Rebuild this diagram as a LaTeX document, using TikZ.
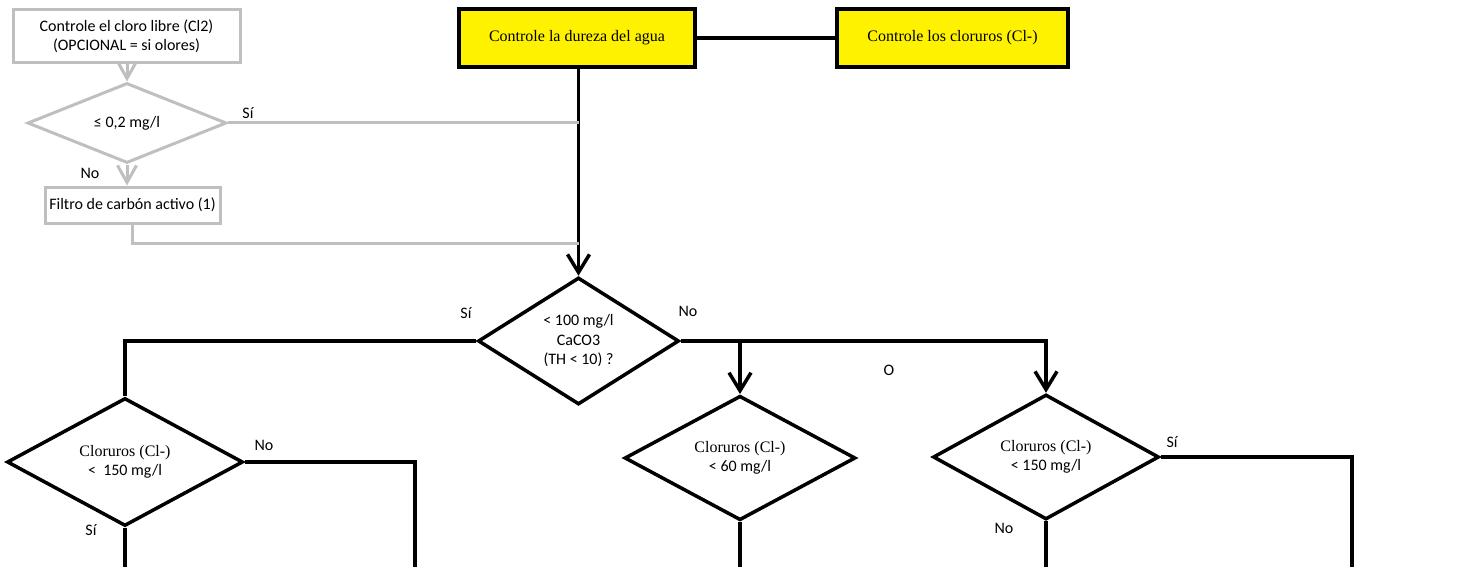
\documentclass[tikz,border=0pt]{standalone}
\usepackage{fontspec}
\setmainfont{Carlito}
\newfontfamily\timesfont{Liberation Serif}
\usetikzlibrary{arrows.meta,shapes.geometric,positioning}
\definecolor{boxgray}{RGB}{191,191,191}

\begin{document}
\begin{tikzpicture}[x=1pt,y=-1pt,line width=3.5pt,
    font=\fontsize{16}{19.5}\selectfont,
    tip/.style={-{Straight Barb[length=18pt,width=22pt]}},
    graytip/.style={-{Straight Barb[length=17pt,width=19pt]}},
    graybox/.style={draw=boxgray,line width=3pt,rectangle,inner sep=0,align=center},
    grayline/.style={draw=boxgray,line width=3pt},
    yellowbox/.style={draw,fill=yellow,rectangle,minimum width=236,minimum height=58,
      inner sep=0,font=\timesfont\fontsize{16}{19}\selectfont},
    decision/.style={draw,diamond,inner sep=0,align=center},
    lbl/.style={inner sep=0}]

  \useasboundingbox (0,0) rectangle (1466,567);

  % Optional chlorine check (gray)
  \node[graybox,minimum width=227,minimum height=53] (cloro) at (126.5,36.5)
    {Controle el cloro libre (Cl2)\\(OPCIONAL = si olores)};
  \node[decision,draw=boxgray,line width=3pt,minimum width=199,minimum height=70]
    (dcloro) at (127,123) {≤ 0,2 mg/l};
  \node[graybox,minimum width=175,minimum height=36] (filtro) at (132.5,205)
    {Filtro de carbón activo (1)};

  \draw[grayline,graytip] (cloro.south -| dcloro.north) -- (dcloro.north);
  \draw[grayline,graytip] (dcloro.south) -- (dcloro.south |- filtro.north);

  \node[lbl] (sicloro) at (248,113) {Sí};
  \node[lbl] (nocloro) at (90,173) {No};

  % Yellow control boxes
  \node[yellowbox] (dureza) at (577,38) {Controle la dureza del agua};
  \node[yellowbox,minimum width=231] (cloruros) at (952.5,38) {Controle los cloruros (Cl-)};
  \draw (dureza.east) -- (cloruros.west);

  % Hardness decision
  \node[decision,minimum width=201,minimum height=127] (dec) at (578.5,341)
    {< 100 mg/l\\CaCO3\\(TH < 10) ?};
  \draw[tip] (dureza.south -| dec.north) -- (dec.north);

  % gray lines joining the main line
  \coordinate (join) at (578.5,243);
  \draw[grayline] (dcloro.east) -- (dcloro.east -| dec.north);
  \draw[grayline] (filtro.south) |- (join);

  \node[lbl] (sidec) at (466,313) {Sí};
  \node[lbl] (nodec) at (688,311) {No};
  \node[lbl] (o) at (889,370) {O};

  % Chloride decisions
  \node[decision,minimum width=236,minimum height=128] (dL) at (125,462)
    {{\timesfont Cloruros (Cl-)}\\<~~150 mg/l};
  \node[decision,minimum width=231,minimum height=124] (dM) at (740,458)
    {{\timesfont Cloruros (Cl-)}\\< 60 mg/l};
  \node[decision,minimum width=226,minimum height=125] (dR) at (1046,457)
    {{\timesfont Cloruros (Cl-)}\\< 150 mg/l};

  \draw (dec.west) -| (dL.north);
  \draw[tip] (dec.east) -| (dR.north);
  \draw[tip] (dM.north |- dec.east) -- (dM.north);

  % lines leaving the picture
  \coordinate (bottom) at (0,567);
  \coordinate (outL) at (415,567);
  \coordinate (outR) at (1352,567);
  \draw (dL.south) -- (dL.south |- bottom);
  \draw (dL.east) -| (outL);
  \draw (dM.south) -- (dM.south |- bottom);
  \draw (dR.south) -- (dR.south |- bottom);
  \draw (dR.east) -| (outR);

  \node[lbl] (noL) at (264,445) {No};
  \node[lbl] (siL) at (91,530) {Sí};
  \node[lbl] (siR) at (1172,442) {Sí};
  \node[lbl] (noR) at (1004,528) {No};

\end{tikzpicture}
\end{document}
